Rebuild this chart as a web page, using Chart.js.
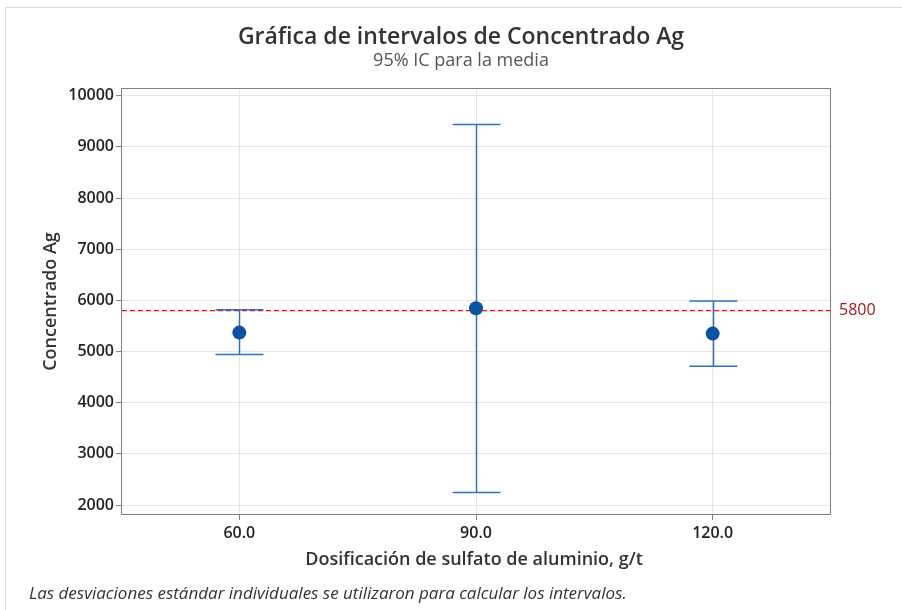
<!DOCTYPE html>
<html>
<head>
<meta charset="utf-8">
<script src="https://cdn.jsdelivr.net/npm/chart.js@4.4.1/dist/chart.umd.min.js"></script>
<style>
  html, body { margin: 0; padding: 0; background: #ffffff; }
  #wrap { width: 902px; height: 610px; position: relative; }
</style>
</head>
<body>
<div id="wrap"><canvas id="c" width="902" height="610"></canvas></div>
<script>
// Dosage levels (g/t) and 95% confidence intervals for the mean
const categories = ['60.0', '90.0', '120.0'];
const means = [5370, 5845, 5350];
const lowerCI = [4940, 2245, 4712];
const upperCI = [5815, 9435, 5985];
const yTicks = [2000, 3000, 4000, 5000, 6000, 7000, 8000, 9000, 10000];
const refValue = 5800;

const FONT = '"Open Sans", "Noto Sans", sans-serif';

const intervalPlugin = {
  id: 'intervals',
  beforeDraw(chart) {
    const ctx = chart.ctx;
    ctx.save();
    ctx.fillStyle = '#ffffff';
    ctx.fillRect(0, 0, chart.width, chart.height);
    // outer frame
    ctx.strokeStyle = '#dadada';
    ctx.lineWidth = 1;
    ctx.beginPath();
    ctx.moveTo(5.5, chart.height);
    ctx.lineTo(5.5, 7.5);
    ctx.lineTo(chart.width, 7.5);
    ctx.stroke();
    ctx.restore();
  },
  beforeDatasetsDraw(chart) {
    const ctx = chart.ctx;
    const {left, right, top, bottom} = chart.chartArea;
    const xs = chart.scales.x, ys = chart.scales.y;
    ctx.save();
    // plot border
    ctx.strokeStyle = '#7f7f7f';
    ctx.lineWidth = 1;
    ctx.strokeRect(left + 0.5, top + 0.5, right - left - 1, bottom - top - 1);

    // reference line
    const yr = ys.getPixelForValue(refValue);
    ctx.strokeStyle = '#ff0000';
    ctx.lineWidth = 1.3;
    ctx.setLineDash([5, 3]);
    ctx.beginPath();
    ctx.moveTo(left + 1, yr);
    ctx.lineTo(right - 1, yr);
    ctx.stroke();
    ctx.setLineDash([]);
    ctx.fillStyle = '#a3171b';
    ctx.font = '16px ' + FONT;
    ctx.textAlign = 'left';
    ctx.textBaseline = 'middle';
    ctx.fillText(String(refValue), right + 8, yr);

    // interval bars with caps
    ctx.strokeStyle = '#2b74c3';
    ctx.lineWidth = 1.5;
    const cap = 24;
    for (let i = 0; i < categories.length; i++) {
      const x = Math.round(xs.getPixelForValue(i)) + 0.5;
      const yl = ys.getPixelForValue(lowerCI[i]);
      const yu = ys.getPixelForValue(upperCI[i]);
      ctx.beginPath();
      ctx.moveTo(x, yl);
      ctx.lineTo(x, yu);
      ctx.moveTo(x - cap, yu);
      ctx.lineTo(x + cap, yu);
      ctx.moveTo(x - cap, yl);
      ctx.lineTo(x + cap, yl);
      ctx.stroke();
    }
    ctx.restore();
  },
  afterDraw(chart) {
    const ctx = chart.ctx;
    const {left, right, top, bottom} = chart.chartArea;
    ctx.save();
    ctx.textAlign = 'center';
    ctx.textBaseline = 'middle';
    ctx.fillStyle = '#333333';
    ctx.font = '600 23px ' + FONT;
    ctx.fillText('Gráfica de intervalos de Concentrado Ag', 461, 37);
    ctx.fillStyle = '#555555';
    ctx.font = '18px ' + FONT;
    ctx.fillText('95% IC para la media', 461, 61);

    // axis titles
    ctx.fillStyle = '#333333';
    ctx.font = '600 18px ' + FONT;
    ctx.fillText('Dosificación de sulfato de aluminio, g/t', (left + right) / 2 - 2, 560);
    ctx.save();
    ctx.translate(51, (top + bottom) / 2);
    ctx.rotate(-Math.PI / 2);
    ctx.fillText('Concentrado Ag', 0, 0);
    ctx.restore();

    // footnote
    ctx.textAlign = 'left';
    ctx.fillStyle = '#333333';
    ctx.font = 'italic 17px ' + FONT;
    ctx.fillText('Las desviaciones estándar individuales se utilizaron para calcular los intervalos.', 29, 594);
    ctx.restore();
  }
};

new Chart(document.getElementById('c'), {
  type: 'line',
  data: {
    labels: categories,
    datasets: [{
      data: means,
      showLine: false,
      pointRadius: 7,
      pointHoverRadius: 7,
      pointBackgroundColor: '#0b52a5',
      pointBorderColor: '#0b52a5',
      pointBorderWidth: 0
    }]
  },
  options: {
    responsive: false,
    animation: false,
    events: [],
    layout: { padding: { top: 88, right: 71, left: 0, bottom: 0 } },
    plugins: { legend: { display: false }, tooltip: { enabled: false }, title: { display: false } },
    scales: {
      x: {
        type: 'category',
        offset: true,
        grid: { offset: false, color: '#e6e6e6', lineWidth: 1, drawTicks: true, tickLength: 5, tickColor: '#7f7f7f' },
        border: { display: false },
        ticks: { color: '#222222', font: { family: FONT, size: 16, weight: '600' }, padding: 4 },
        afterFit(scale) { scale.height = 95; }
      },
      y: {
        min: 1805,
        max: 10150,
        afterBuildTicks(scale) { scale.ticks = yTicks.map(v => ({ value: v })); },
        grid: { color: '#e6e6e6', lineWidth: 1, drawTicks: true, tickLength: 5, tickColor: '#7f7f7f' },
        border: { display: false },
        ticks: { color: '#222222', font: { family: FONT, size: 16, weight: '600' }, padding: 2, callback: v => String(v) },
        afterFit(scale) { scale.width = 121; }
      }
    }
  },
  plugins: [intervalPlugin]
});
</script>
</body>
</html>
